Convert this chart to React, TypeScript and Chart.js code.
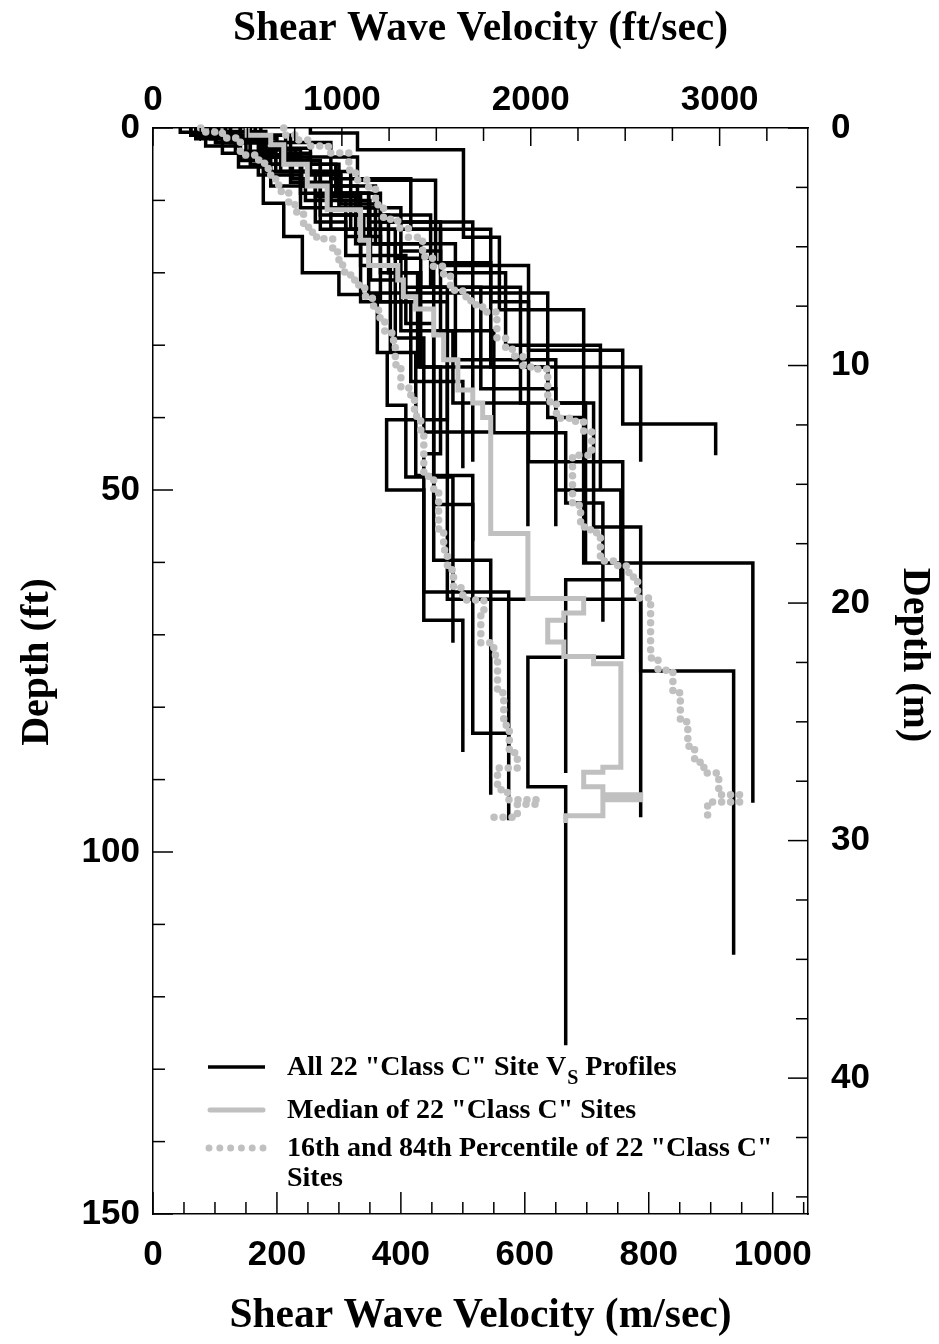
import React, { useEffect, useRef } from 'react';
import { Chart, registerables } from 'chart.js';

Chart.register(...registerables);

// ---------- axis ranges & tick labels ----------
const MAX_VS_MS = 1057;
const MAX_DEPTH_FT = 150;
const M_TO_FT = 3.28084;
const MS_LABELS = [0, 200, 400, 600, 800, 1000];
const FTS_TICKS = [0, 250, 500, 750, 1000, 1250, 1500, 1750, 2000, 2250, 2500, 2750, 3000, 3250];
const FTS_LABELS = [0, 1000, 2000, 3000];
const FT_LABELS = [0, 50, 100, 150];
const M_LABELS = [0, 10, 20, 30, 40];

// ---------- Vs profiles: [Vs (m/s), layer bottom depth (ft)] ----------
const SITE_01 = [[77, 1], [222, 6], [319, 14], [464, 19], [606, 46.1], [758, 73.1], [605, 91], [666, 126.7]];
const SITE_02 = [[141, 1.5], [200, 3], [238, 5], [300, 8], [359, 12], [448, 22], [593, 38], [711, 55.1], [787, 75], [937, 114.2]];
const SITE_03 = [[254, 0.7], [330, 3.0], [501, 15.1], [559, 25.1], [695, 60.1], [968, 93.2]];
const SITE_04 = [[101, 2], [150, 3.5], [182, 5], [240, 8], [287, 12], [340, 16], [400, 22], [475, 65.1], [787, 95.2]];
const SITE_05 = [[125, 2], [180, 4], [238, 8], [300, 11], [367, 16], [488, 32], [650, 50], [755, 62.4], [666, 89.1]];
const SITE_06 = [[61, 1], [157, 5], [270, 12], [367, 20], [432, 33], [464, 45], [437, 64.1], [574, 95.6]];
const SITE_07 = [[117, 1.5], [190, 4], [250, 6.5], [303, 10], [350, 14], [391, 18], [453, 59.7], [545, 92.1]];
const SITE_08 = [[93, 1.5], [182, 6], [270, 14], [335, 24], [475, 40.3], [377, 50], [437, 68], [500, 86.2]];
const SITE_09 = [[174, 2], [287, 7], [416, 14], [545, 24], [606, 30.7], [758, 40.9], [908, 45.2]];
const SITE_10 = [[157, 2], [210, 3.5], [254, 6], [300, 9], [335, 12], [380, 20], [427, 33], [787, 46.1]];
const SITE_11 = [[101, 2], [206, 6], [287, 9], [367, 13], [516, 46.1]];
const SITE_12 = [[149, 2], [210, 4.5], [270, 8], [330, 11], [400, 17], [464, 28], [550, 42.1], [666, 51.8], [726, 68.2]];
const SITE_13 = [[61, 1], [141, 4], [238, 9], [348, 22.8], [637, 38], [698, 60]];
const SITE_14 = [[69, 1.5], [112, 3.5], [138, 5.4], [178, 10.4], [211, 15], [241, 20], [300, 23], [362, 31], [378, 38.3], [408, 48.2], [484, 71.1]];
const SITE_15 = [[85, 2.5], [141, 4.5], [190, 8], [262, 13], [311, 17.6], [408, 27], [453, 52], [516, 57]];
const SITE_16 = [[125, 2], [170, 6.5], [238, 11], [335, 19], [383, 31], [424, 48], [516, 83.6], [574, 86]];
const SITE_17 = [[106, 1.2], [157, 3.7], [222, 7.5], [287, 14], [351, 21], [400, 28], [484, 38], [605, 55]];
const SITE_18 = [[44, 0.6], [133, 3.2], [198, 6], [262, 9.5], [327, 16], [432, 22], [529, 36], [650, 55]];
const SITE_19 = [[165, 1], [214, 4], [330, 7.2], [456, 18.6], [545, 33], [637, 40], [695, 52.5]];
const SITE_20 = [[141, 1.6], [175, 3], [198, 5], [225, 7], [246, 10], [311, 15], [367, 24], [416, 35], [500, 47]];
const SITE_21 = [[77, 0.5], [182, 3], [230, 5], [295, 9], [348, 13], [464, 20], [569, 30], [722, 50]];
const SITE_22 = [[117, 1], [177, 2.8], [254, 6.2], [303, 10.5], [359, 16], [391, 29], [437, 42], [545, 55]];

const SITES = [
  SITE_01, SITE_02, SITE_03, SITE_04, SITE_05, SITE_06, SITE_07, SITE_08, SITE_09, SITE_10, SITE_11,
  SITE_12, SITE_13, SITE_14, SITE_15, SITE_16, SITE_17, SITE_18, SITE_19, SITE_20, SITE_21, SITE_22,
];

const MEDIAN = [[152, 1], [190, 2.3], [211, 5], [249, 8], [281, 11.3], [335, 15.5], [348, 19], [395, 21], [404, 23.3], [424, 25], [453, 28.6], [469, 32], [492, 36.2], [516, 38], [532, 40], [545, 56], [605, 65], [695, 67], [663, 68], [637, 71], [663, 73], [711, 74], [755, 88.3], [726, 89], [695, 91], [726, 92.1], [787, 92.8], [726, 95], [666, 96]];

const PCT_16 = [[77, 0], [85, 0.55], [112, 1.38], [141, 3.73], [169, 4.42], [180, 5.25], [186, 6.49], [198, 7.87], [207, 8.98], [219, 10.6], [230, 11.6], [243, 13.4], [251, 14.4], [264, 15.3], [290, 17.1], [298, 18.2], [306, 19.9], [319, 21.0], [332, 22.1], [343, 23.5], [354, 24.6], [364, 26.2], [374, 28.3], [387, 29.3], [391, 32.7], [400, 35.9], [416, 37.6], [422, 39.8], [432, 41.7], [437, 48.1], [453, 50.3], [461, 55.5], [469, 58.3], [475, 61.0], [485, 63.5], [500, 65.2], [534, 67.3], [529, 71.1], [550, 72.8], [556, 78.0], [566, 82.5], [575, 86.3], [588, 88.4], [556, 91.4], [572, 92.8], [621, 93.4], [588, 95.2], [545, 95.3]];

const PCT_84 = [[211, 0.97], [233, 1.66], [254, 2.49], [283, 3.45], [316, 5.8], [327, 7.18], [348, 8.29], [359, 10.6], [372, 12.6], [395, 13.8], [412, 15.1], [435, 17.8], [451, 19.1], [469, 20.3], [480, 22.4], [500, 23.3], [513, 24.4], [532, 25.4], [555, 29.0], [569, 30.4], [580, 31.5], [597, 33.0], [621, 33.3], [637, 37.8], [651, 40.1], [674, 40.5], [695, 42.0], [708, 45.2], [677, 52.1], [690, 55.1], [706, 55.9], [722, 59.8], [750, 60.5], [768, 62.0], [782, 64.9], [803, 73.2], [815, 74.9], [839, 78.0], [851, 82.0], [863, 85.4], [874, 87.6], [889, 89.1], [913, 92.1], [948, 93.1], [895, 95.3]];

const LEGEND_LABELS = ['All 22 "Class C" Site V', 'S', ' Profiles', 'Median of 22 "Class C" Sites', '16th and 84th Percentile of 22 "Class C"', 'Sites'];
const TITLE_TOP = 'Shear Wave Velocity (ft/sec)';
const TITLE_BOTTOM = 'Shear Wave Velocity (m/sec)';
const TITLE_LEFT = 'Depth (ft)';
const TITLE_RIGHT = 'Depth (m)';

const GREY = '#c0c0c0';
const W = 923;
const H = 1328;

function stepPath(layers: number[][]) {
  const pts: { x: number; y: number }[] = [];
  let top = 0;
  for (const [vs, bottom] of layers) {
    pts.push({ x: vs, y: top }, { x: vs, y: bottom });
    top = bottom;
  }
  return pts;
}

const near = (list: number[], v: number) => list.some((l) => Math.abs(l - v) < 1e-6);

const tickFont = { family: 'Liberation Sans', size: 35, weight: 'bold' as const, lineHeight: 1 };
const titleFont = { family: 'Liberation Serif', size: 41.5, weight: 'bold' as const, lineHeight: 1 };

const tickMarks = {
  id: 'tickMarks',
  afterDraw(chart: any) {
    const { ctx, chartArea: a, scales } = chart;
    ctx.save();
    ctx.strokeStyle = '#000';
    ctx.lineWidth = 1.5;
    const draw = (scale: any, majors: (v: number) => boolean, side: string, minor: number, major: number) => {
      for (const t of scale.ticks) {
        const p = scale.getPixelForValue(t.value);
        const len = majors(t.value) ? major : minor;
        ctx.beginPath();
        if (side === 'bottom') { ctx.moveTo(p, a.bottom); ctx.lineTo(p, a.bottom - len); }
        if (side === 'top') { ctx.moveTo(p, a.top); ctx.lineTo(p, a.top + len); }
        if (side === 'left') { ctx.moveTo(a.left, p); ctx.lineTo(a.left + len, p); }
        if (side === 'right') { ctx.moveTo(a.right, p); ctx.lineTo(a.right - len, p); }
        ctx.stroke();
      }
    };
    draw(scales.x, (v) => Math.abs(v % 200) < 1e-6, 'bottom', 12, 22);
    draw(scales.x2, (v) => Math.abs(v % 1000) < 1e-6, 'top', 13, 18);
    draw(scales.y, (v) => Math.abs(v % 50) < 1e-6, 'left', 12, 20);
    draw(scales.y2, (v) => Math.abs(v % 10) < 1e-6, 'right', 12, 20);
    ctx.restore();
  },
};

const sideTitles = {
  id: 'sideTitles',
  afterDraw(chart: any) {
    const ctx = chart.ctx;
    ctx.save();
    ctx.fillStyle = '#000';
    ctx.font = 'bold 40px "Liberation Serif"';
    ctx.textAlign = 'center';
    ctx.textBaseline = 'middle';
    ctx.save();
    ctx.translate(30, 654);
    ctx.rotate(-Math.PI / 2);
    ctx.fillText(TITLE_LEFT, 0, 0);
    ctx.restore();
    ctx.save();
    ctx.translate(906, 647);
    ctx.rotate(Math.PI / 2);
    ctx.fillText(TITLE_RIGHT, 0, 0);
    ctx.restore();
    ctx.restore();
  },
};

const legendBox = {
  id: 'legendBox',
  afterDraw(chart: any) {
    const ctx = chart.ctx;
    ctx.save();
    const x0 = 200, x1 = 257, tx = 279;
    const ys = [1059, 1102, 1140];
    const big = 'bold 28px "Liberation Serif"';
    const small = 'bold 20px "Liberation Serif"';
    ctx.fillStyle = '#000';
    ctx.textAlign = 'left';
    ctx.textBaseline = 'alphabetic';

    ctx.strokeStyle = '#000';
    ctx.lineWidth = 3.5;
    ctx.beginPath(); ctx.moveTo(x0, ys[0]); ctx.lineTo(x1, ys[0]); ctx.stroke();
    ctx.font = big;
    ctx.fillText(LEGEND_LABELS[0], tx, ys[0] + 8);
    const w = ctx.measureText(LEGEND_LABELS[0]).width;
    ctx.font = small;
    ctx.fillText(LEGEND_LABELS[1], tx + w + 1, ys[0] + 17);
    const ws = ctx.measureText(LEGEND_LABELS[1]).width;
    ctx.font = big;
    ctx.fillText(LEGEND_LABELS[2], tx + w + 1 + ws, ys[0] + 8);

    ctx.strokeStyle = GREY;
    ctx.lineWidth = 5;
    ctx.lineCap = 'round';
    ctx.beginPath(); ctx.moveTo(x0 + 2, ys[1]); ctx.lineTo(x1 - 2, ys[1]); ctx.stroke();
    ctx.fillText(LEGEND_LABELS[3], tx, ys[1] + 8);

    ctx.lineWidth = 7;
    ctx.setLineDash([0, 10.8]);
    ctx.beginPath(); ctx.moveTo(x0 + 1, ys[2]); ctx.lineTo(x1, ys[2]); ctx.stroke();
    ctx.setLineDash([]);
    ctx.fillText(LEGEND_LABELS[4], tx, ys[2] + 8);
    ctx.fillText(LEGEND_LABELS[5], tx, ys[2] + 38);
    ctx.restore();
  },
};

export default function App() {
  const ref = useRef<HTMLCanvasElement>(null);
  useEffect(() => {
    const black = SITES.map((s, i) => ({
      label: `Site ${i + 1}`,
      data: stepPath(s),
      showLine: true,
      borderColor: '#000',
      backgroundColor: '#000',
      borderWidth: 3.5,
      pointRadius: 0,
      borderJoinStyle: 'miter' as const,
      clip: false as any,
      order: 2,
    }));
    const datasets: any[] = [
      ...black,
      {
        label: 'Median', data: stepPath(MEDIAN), showLine: true, borderColor: GREY, borderWidth: 5,
        pointRadius: 0, borderJoinStyle: 'miter', clip: false, order: 1,
      },
      {
        label: '16th', data: stepPath(PCT_16), showLine: true, borderColor: GREY, borderWidth: 7.5,
        borderDash: [0, 9], borderCapStyle: 'round', pointRadius: 0, clip: false, order: 0,
      },
      {
        label: '84th', data: stepPath(PCT_84), showLine: true, borderColor: GREY, borderWidth: 7.5,
        borderDash: [0, 9], borderCapStyle: 'round', pointRadius: 0, clip: false, order: 0,
      },
    ];
    const border = { display: true, color: '#000', width: 1.5 };
    const grid = { display: false, drawTicks: false };
    const chart = new Chart(ref.current as HTMLCanvasElement, {
      type: 'scatter',
      data: { datasets },
      options: {
        animation: false,
        responsive: false,
        events: [],
        layout: { padding: 0 },
        plugins: { legend: { display: false }, tooltip: { enabled: false } },
        scales: {
          x: {
            type: 'linear', position: 'bottom', min: 0, max: MAX_VS_MS,
            grid, border,
            ticks: {
              stepSize: 50, autoSkip: false, maxRotation: 0, includeBounds: false, padding: 24,
              color: '#000', font: tickFont,
              callback: (v: any) => (near(MS_LABELS, Number(v)) ? String(v) : ''),
            },
            title: { display: true, text: TITLE_BOTTOM, color: '#000', font: titleFont, padding: { top: 0, bottom: -1 } },
            afterFit: (s: any) => { s.height = H - 1206; },
          },
          x2: {
            type: 'linear', position: 'top', min: 0, max: MAX_VS_MS * M_TO_FT,
            grid, border,
            ticks: {
              autoSkip: false, maxRotation: 0, padding: 10,
              color: '#000', font: tickFont,
              callback: (v: any) => (near(FTS_LABELS, Number(v)) ? String(v) : ''),
            },
            afterBuildTicks: (s: any) => { s.ticks = FTS_TICKS.map((v) => ({ value: v })); },
            title: { display: true, text: TITLE_TOP, color: '#000', font: titleFont, padding: { top: 1, bottom: 0 } },
            afterFit: (s: any) => { s.height = 120; },
          },
          y: {
            type: 'linear', position: 'left', min: 0, max: MAX_DEPTH_FT, reverse: true,
            grid, border,
            ticks: {
              stepSize: 10, autoSkip: false, includeBounds: false, padding: 13,
              color: '#000', font: tickFont,
              callback: (v: any) => (near(FT_LABELS, Number(v)) ? String(v) : ''),
            },
            title: { display: false },
            afterFit: (s: any) => { s.width = 145; },
          },
          y2: {
            type: 'linear', position: 'right', min: 0, max: MAX_DEPTH_FT / M_TO_FT, reverse: true,
            grid, border,
            ticks: {
              stepSize: 2.5, autoSkip: false, includeBounds: false, padding: 23,
              color: '#000', font: tickFont,
              callback: (v: any) => (near(M_LABELS, Number(v)) ? String(v) : ''),
            },
            title: { display: false },
            afterFit: (s: any) => { s.width = W - 800; },
          },
        },
      },
      plugins: [tickMarks, sideTitles, legendBox],
    } as any);
    return () => chart.destroy();
  }, []);
  return (
    <div style={{ width: W, height: H }}>
      <canvas ref={ref} width={W} height={H} style={{ display: 'block' }} />
    </div>
  );
}
